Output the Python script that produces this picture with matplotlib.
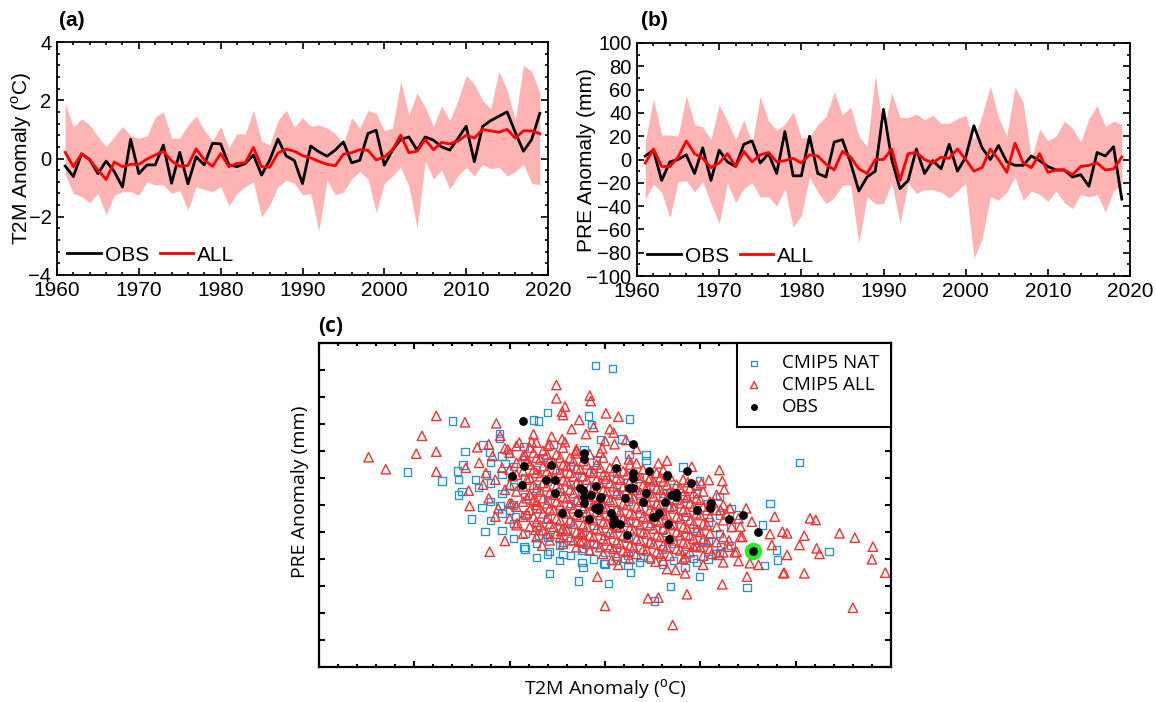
import numpy as np
import matplotlib
matplotlib.use('Agg')
import matplotlib.pyplot as plt
from matplotlib.ticker import MultipleLocator

plt.rcParams['font.family'] = ['Liberation Sans', 'DejaVu Sans']
plt.rcParams['mathtext.fontset'] = 'custom'
plt.rcParams['mathtext.rm'] = 'Liberation Sans'

years = list(range(1961, 2020))

# (a) T2M anomaly, OBS / ALL mean / ALL spread
t2m_obs = [-0.26, -0.62, 0.16, -0.04, -0.52, -0.09, -0.45, -0.98, 0.66, -0.52,
           -0.22, -0.22, 0.46, -0.85, 0.21, -0.87, 0.06, -0.22, 0.52, 0.50,
           -0.22, -0.28, -0.17, 0.12, -0.57, -0.05, 0.67, 0.09, -0.07, -0.86,
           0.43, 0.23, 0.08, 0.29, 0.57, -0.15, -0.06, 0.86, 0.97, -0.23,
           0.29, 0.65, 0.74, 0.29, 0.74, 0.63, 0.40, 0.29, 0.69, 1.11,
           -0.11, 1.10, 1.30, 1.45, 1.60, 0.90, 0.25, 0.65, 1.55]
t2m_all = [0.21, -0.28, 0.16, -0.05, -0.40, -0.72, -0.12, -0.28, -0.20, -0.20,
           -0.02, 0.12, 0.25, -0.08, -0.27, -0.24, 0.33, -0.05, -0.27, 0.17,
           -0.28, -0.17, -0.15, 0.38, -0.28, -0.30, 0.19, 0.32, 0.25, 0.10,
           0.02, -0.10, -0.20, -0.25, 0.15, 0.20, 0.30, 0.28, -0.05, 0.05,
           0.30, 0.80, 0.20, 0.25, 0.65, 0.30, 0.55, 0.50, 0.60, 0.80,
           0.70, 1.00, 0.95, 0.90, 1.00, 0.70, 0.95, 0.95, 0.85]
t2m_high = [1.90, 1.08, 1.36, 1.15, 0.75, 0.40, 0.75, 1.10, 0.78, 0.70,
            0.78, 1.42, 1.60, 0.70, 0.70, 1.15, 1.46, 0.97, 0.60, 1.09,
            0.36, 0.86, 0.83, 1.66, 0.60, 0.46, 1.30, 1.66, 1.07, 1.41,
            1.10, 1.15, 1.05, 0.85, 0.50, 1.40, 1.05, 1.65, 1.55, 0.95,
            1.05, 2.65, 1.50, 2.25, 1.75, 1.10, 1.80, 1.30, 2.00, 2.85,
            2.55, 2.00, 1.70, 3.00, 2.35, 1.30, 3.20, 3.00, 2.25]
t2m_low = [-0.55, -1.20, -1.31, -1.52, -1.20, -1.94, -1.26, -1.14, -1.14, -1.26,
           -0.80, -0.91, -0.91, -1.20, -1.09, -1.77, -0.97, -1.06, -1.14, -0.97,
           -1.63, -1.20, -0.97, -0.80, -2.00, -1.60, -0.97, -0.75, -0.85, -1.25,
           -1.20, -2.50, -0.75, -1.25, -1.15, -0.70, -0.45, -0.70, -1.85, -0.85,
           -0.60, -0.30, -0.95, -2.40, -0.10, -0.70, -0.40, -1.05, -0.60, -0.30,
           -0.60, -0.20, -0.35, -0.30, -0.60, -0.45, -0.20, -0.85, -0.90]

# (b) PRE anomaly (mm)
pre_obs = [3, 8, -18, -2, 0, 4, -12, 10, -18, 8,
           -2, -6, 13, 16, -3, 5, -12, 24, -14, -14,
           20, -12, -15, 15, 17, -3, -27, -15, -10, 43,
           0, -25, -18, 9, -12, -1, -8, 13, -10, 2,
           29, 10, 0, 12, -2, -5, -5, 3, -1, -6,
           -9, -9, -15, -13, -23, 6, 3, 11, -34]
pre_all = [-3, 9, -6, -6, 2, 16, 5, 1, -7, -3,
           5, -6, 7, -2, 4, 6, -2, -1, 1, -3,
           4, 3, -4, -9, 7, 2, -8, -12, 0, 0,
           9, -18, 5, 6, 0, -3, 2, 1, 9, 0,
           -10, -7, 9, 0, -11, 14, -3, -7, 5, -11,
           -9, -9, -13, -6, -5, -3, -9, -8, 2]
pre_low = [-34, -21, -28, -50, -19, -18, -28, -19, -38, -55,
           -20, -37, -25, -20, -32, -32, -40, -25, -58, -48,
           -15, -28, -38, -33, -22, -22, -72, -32, -38, -38,
           -20, -55, -20, -29, -26, -26, -28, -33, -27, -20,
           -85, -68, -32, -35, -28, -15, -35, -27, -30, -36,
           -27, -37, -42, -30, -32, -30, -45, -27, -22]
pre_high = [15, 52, 21, 21, 20, 55, 30, 28, 17, 47,
            33, 17, 34, 14, 54, 33, 25, 30, 41, 19,
            19, 30, 37, 58, 38, 45, 20, 11, 72, 25,
            57, 36, 36, 39, 34, 38, 31, 31, 35, 38,
            17, 38, 63, 36, 20, 62, 49, 0, 26, 16,
            20, 33, 27, 15, 35, 46, 28, 33, 30]

# (c) model members (T2M, PRE): scattered members
nat_pts = [(-1.60, 42.8), (-2.07, 12.6), (-1.71, 7.2), (-1.47, 24.6), (-1.55, 13.2),
           (-1.54, 8.2), (-1.54, -1.1), (-1.50, 0.9), (-1.36, 8.2), (-1.33, 3.5),
           (-1.28, 28.6), (-1.24, 10.8), (-1.49, 16.7), (-1.29, -8.6), (-1.40, -15.3),
           (-1.26, -22.8), (-0.10, 75.6), (0.08, 74.0), (-0.60, 47.7), (-0.75, 43.4),
           (-0.70, 42.8), (-0.17, 45.7), (-0.14, 40.8), (0.26, 44.0), (-1.11, 35.5),
           (-1.11, 32.5), (-0.85, 27.6), (-0.54, 29.0), (-0.05, 31.9), (0.18, 32.1),
           (-0.22, 25.6), (0.25, 23.0), (-1.01, 23.6), (-1.21, 24.2), (-0.65, 21.0),
           (-1.05, 17.7), (-0.09, 19.7), (0.43, 22.6), (0.43, 19.3), (0.82, 15.5),
           (0.99, 7.2), (2.04, 18.1), (1.73, -6.0), (1.65, -18.8), (1.80, -33.7),
           (1.81, -39.6), (1.67, -43.0), (0.99, -49.5), (0.69, -55.4), (0.52, -63.9),
           (1.49, -56.0), (1.21, -31.7), (1.38, -12.9), (1.16, -35.6), (1.03, -28.7),
           (0.93, -38.6), (-1.10, -7.4), (-0.85, -31.9), (-0.58, -47.5), (-0.28, -52.0),
           (-0.23, -43.9), (0.04, -53.4), (0.27, -46.9), (-0.01, -41.5), (-0.44, -36.2),
           (-0.44, -29.3), (-0.58, -34.7), (-0.58, -25.8), (-0.70, -24.8), (-0.94, -13.9),
           (-1.00, -10.0), (-0.17, -33.7), (-0.24, -32.7), (0.21, -38.6), (0.37, -38.0),
           (-0.40, -22.4), (2.35, -34.7)]

all_pts = [(-1.77, 45.8), (-1.47, 42.0), (-1.92, 34.0), (-2.48, 21.3), (-1.98, 23.4),
           (-1.77, 24.6), (-2.30, 14.2), (-1.77, 12.7), (-1.34, 27.2), (-1.43, 1.5),
           (-1.46, 15.1), (-1.42, -7.6), (-1.21, -34.7), (-0.51, 64.1), (-0.51, 56.2),
           (-0.16, 57.8), (-0.15, 54.6), (-0.42, 51.3), (-0.45, 48.3), (-0.44, 46.3),
           (0.01, 47.3), (0.14, 45.3), (-0.27, 43.4), (-0.12, 39.2), (-1.14, 41.4),
           (-0.75, 34.9), (-0.56, 33.5), (-0.77, 30.5), (-0.42, 30.2), (0.09, 35.9),
           (0.00, 31.0), (0.22, 31.5), (-0.03, 26.6), (0.33, 26.2), (-1.22, 29.0),
           (-1.05, 26.6), (-0.84, 22.6), (-0.31, 23.6), (0.33, 17.7), (0.65, 19.3),
           (0.56, 17.7), (0.91, 15.7), (1.20, 13.7), (1.23, 7.2), (1.25, 2.3),
           (1.09, 7.8), (1.01, 5.9), (0.87, 6.5), (0.61, 13.7), (0.58, 9.4),
           (0.46, 7.8), (1.78, -13.9), (1.86, -22.8), (1.91, -23.8), (1.73, -24.2),
           (1.75, -30.7), (1.91, -36.6), (2.04, -30.7), (1.87, -47.5), (1.49, -49.5),
           (1.23, -54.0), (0.86, -59.9), (0.45, -62.3), (0.56, -61.9), (0.71, -78.1),
           (1.52, -41.5), (1.61, -42.5), (1.40, -40.2), (1.38, -34.7), (1.30, -31.7),
           (1.31, -9.0), (1.54, -16.9), (1.42, -19.8), (1.13, -5.4), (1.21, -10.0),
           (1.03, -42.5), (0.84, -47.5), (0.74, -45.5), (0.53, -40.6), (1.19, -36.6),
           (0.93, -31.7), (1.42, -25.8), (-1.15, -13.9), (-1.05, -28.3), (-0.92, -17.8),
           (-0.73, -21.8), (-0.66, -31.1), (-0.46, -22.4), (-0.24, -24.4), (-0.26, -28.7),
           (-0.08, -49.5), (0.00, -66.8), (0.14, -42.5), (0.07, -39.6), (-0.72, -5.0),
           (2.81, -31.7), (2.80, -39.2), (2.94, -47.1), (2.60, -67.9), (2.62, -26.4),
           (2.46, -23.8), (2.25, -36.0), (2.22, -32.7), (2.21, -15.9), (2.15, -14.9),
           (2.09, -25.2), (2.09, -47.5), (1.88, -47.1), (0.65, -45.0),
           (-1.32, 18), (-1.28, 5), (-1.25, 12), (-1.22, -3), (-1.18, 22), (-1.15, 8),
           (-1.12, -9), (-1.08, 15), (-1.05, 2), (-1.02, 26), (-0.98, -6), (-0.97, 10),
           (1.27, -12), (1.30, -28), (1.33, -20), (1.36, -35), (1.40, -15), (1.44, -26),
           (1.48, -9), (1.24, -41), (1.12, -36), (0.84, -38),
           (-0.60, 28), (-0.45, 32), (-0.30, 26), (-0.20, 35), (-0.05, 24), (0.10, 29),
           (0.25, 20), (0.05, 38), (-0.35, 38), (-0.90, 30), (-1.10, 34)]

# dense core of the clouds, column by column: (T2M, [PRE values])
nat_core = [(-1.20, [18, 6, -5, -16]),
            (-1.08, [22, 11, 0, -12, -22]),
            (-0.96, [16, 4, -7, -18, -27]),
            (-0.84, [20, 9, -2, -13, -24, -33]),
            (-0.72, [14, 3, -9, -20, -30, -38]),
            (-0.60, [18, 7, -4, -15, -26, -36]),
            (-0.48, [12, 1, -10, -21, -31, -40]),
            (-0.36, [16, 5, -6, -17, -28, -37]),
            (-0.24, [10, -1, -12, -23, -34, -41]),
            (-0.12, [14, 3, -8, -19, -30, -39]),
            (0.00, [8, -3, -14, -25, -35, -42]),
            (0.12, [12, 1, -10, -21, -32, -40]),
            (0.24, [6, -5, -16, -27, -37, -43]),
            (0.36, [10, -1, -12, -23, -33, -41]),
            (0.48, [4, -7, -18, -29, -39]),
            (0.60, [0, -11, -22, -33, -42]),
            (0.72, [3, -8, -19, -30, -40]),
            (0.84, [-3, -14, -25, -36, -44]),
            (0.96, [0, -10, -21, -32, -41]),
            (1.08, [-6, -17, -28, -39]),
            (1.20, [-2, -13, -24, -35]),
            (1.32, [-9, -20, -31])]

all_core = [(-1.00, [24, 14, 5, -6, -15]),
            (-0.93, [28, 18, 11, 1, -8, -19]),
            (-0.86, [22, 13, 4, -5, -14, -24]),
            (-0.79, [27, 17, 9, -1, -10, -20]),
            (-0.72, [30, 21, 12, 2, -7, -17, -26]),
            (-0.65, [25, 16, 6, -3, -12, -22]),
            (-0.58, [29, 19, 10, 0, -9, -18, -28]),
            (-0.51, [23, 14, 4, -5, -15, -24]),
            (-0.44, [27, 17, 8, -2, -11, -21, -30]),
            (-0.37, [21, 12, 2, -7, -16, -26]),
            (-0.30, [25, 15, 6, -4, -13, -23, -32]),
            (-0.23, [19, 10, 0, -9, -19, -28]),
            (-0.16, [23, 13, 4, -6, -15, -25, -34]),
            (-0.09, [17, 8, -2, -11, -21, -30]),
            (-0.02, [21, 11, 2, -8, -17, -27, -36]),
            (0.05, [15, 6, -4, -13, -23, -32]),
            (0.12, [19, 9, 0, -10, -19, -29, -37]),
            (0.19, [13, 4, -6, -15, -25, -34]),
            (0.26, [17, 7, -2, -12, -21, -31, -39]),
            (0.33, [11, 2, -8, -17, -27, -36]),
            (0.40, [14, 5, -4, -14, -23, -33]),
            (0.47, [9, 0, -10, -19, -29, -38]),
            (0.54, [12, 3, -6, -16, -25, -35]),
            (0.61, [7, -2, -12, -21, -31, -40]),
            (0.68, [10, 1, -8, -18, -27, -37]),
            (0.75, [5, -4, -14, -23, -33]),
            (0.82, [8, -1, -10, -20, -29, -39]),
            (0.89, [3, -6, -16, -25, -35]),
            (0.96, [5, -3, -12, -22, -31]),
            (1.03, [1, -8, -18, -27, -37]),
            (1.10, [-5, -14, -24, -33]),
            (1.17, [-1, -10, -20, -29]),
            (1.24, [-7, -16, -26, -35]),
            # second, staggered layer in the densest part
            (-0.82, [19, 8, -3, -12]),
            (-0.75, [24, 14, 5, -4, -14]),
            (-0.68, [20, 10, 1, -9, -19]),
            (-0.61, [23, 13, 4, -6, -15, -24]),
            (-0.54, [18, 9, -1, -10, -20]),
            (-0.47, [21, 12, 3, -7, -16, -26]),
            (-0.40, [16, 7, -3, -12, -22]),
            (-0.33, [19, 10, 0, -9, -18, -28]),
            (-0.26, [14, 5, -5, -14, -24]),
            (-0.19, [17, 8, -2, -11, -20, -30]),
            (-0.12, [12, 3, -7, -16, -26]),
            (-0.05, [15, 6, -3, -13, -22, -32]),
            (0.02, [10, 1, -9, -18, -28]),
            (0.09, [13, 4, -5, -15, -24, -33]),
            (0.16, [8, -1, -11, -20, -30]),
            (0.23, [11, 2, -7, -17, -26, -35]),
            (0.30, [6, -3, -13, -22, -32]),
            (0.37, [9, 0, -9, -19, -28]),
            (0.44, [4, -5, -15, -24, -34]),
            (0.51, [7, -2, -11, -21, -30]),
            (0.58, [2, -7, -17, -26, -36]),
            (0.65, [5, -4, -13, -23, -32]),
            (0.72, [0, -9, -19, -28]),
            (0.79, [3, -6, -15, -25, -34]),
            (0.86, [-2, -11, -21, -30]),
            (0.93, [0, -8, -18, -27]),
            (1.00, [-4, -13, -23, -32]),
            (1.07, [-10, -19, -29])]

nat_t2m = [p[0] for p in nat_pts] + [x for x, ys in nat_core for _ in ys]
nat_pre = [p[1] for p in nat_pts] + [y for x, ys in nat_core for y in ys]
all_t2m = [p[0] for p in all_pts] + [x for x, ys in all_core for _ in ys]
all_pre = [p[1] for p in all_pts] + [y for x, ys in all_core for y in ys]

fig = plt.figure(figsize=(11.56, 7.02), dpi=100)
W, H = 1156.0, 702.0


def style_ts(ax):
    ax.set_xlim(1960, 2020)
    ax.xaxis.set_major_locator(MultipleLocator(10))
    ax.xaxis.set_minor_locator(MultipleLocator(2))
    ax.tick_params(which='both', direction='in', top=True, right=True, labelsize=15, width=1.2)
    ax.tick_params(axis='y', labelsize=14.5)
    ax.tick_params(which='major', length=5, pad=4)
    ax.tick_params(which='minor', length=2.5)
    for s in ax.spines.values():
        s.set_linewidth(1.3)
    ax.legend(loc='lower left', ncol=2, frameon=False, fontsize=15,
              handlelength=1.6, handletextpad=0.2, columnspacing=0.5,
              borderaxespad=0.3, borderpad=0.2)


# (a) temperature
ax1 = fig.add_axes([57 / W, 1 - 275 / H, 491 / W, 233 / H])
ax1.fill_between(years, t2m_low, t2m_high, color='#ffb4b4', lw=0)
ax1.plot(years, t2m_obs, color='k', lw=2, label='OBS')
ax1.plot(years, t2m_all, color='#ff0000', lw=2, label='ALL')
ax1.set_ylim(-4, 4)
ax1.yaxis.set_major_locator(MultipleLocator(2))
ax1.yaxis.set_minor_locator(MultipleLocator(0.4))
style_ts(ax1)
fig.text(22 / W, 1 - 158 / H, 'T2M Anomaly ($^{\\rm o}$C)', rotation=90,
         ha='center', va='center', fontsize=15)
fig.text(59 / W, 1 - 21 / H, '(a)', fontsize=15, fontweight='bold', va='center')

# (b) precipitation
ax2 = fig.add_axes([637 / W, 1 - 276 / H, 493 / W, 233 / H])
ax2.fill_between(years, pre_low, pre_high, color='#ffb4b4', lw=0)
ax2.plot(years, pre_obs, color='k', lw=2, label='OBS')
ax2.plot(years, pre_all, color='#ff0000', lw=2, label='ALL')
ax2.set_ylim(-100, 100)
ax2.yaxis.set_major_locator(MultipleLocator(20))
ax2.yaxis.set_minor_locator(MultipleLocator(10))
style_ts(ax2)
fig.text(586 / W, 1 - 160 / H, 'PRE Anomaly (mm)', rotation=90,
         ha='center', va='center', fontsize=15)
fig.text(641 / W, 1 - 21 / H, '(b)', fontsize=15, fontweight='bold', va='center')

# (c) scatter T2M vs PRE
cfont = 'Open Sans'
ax3 = fig.add_axes([319 / W, 1 - 667 / H, 572 / W, 324 / H])
ax3.scatter(nat_t2m, nat_pre, marker='s', s=28, facecolors='none',
            edgecolors='#1f93d6', linewidths=0.95, label='CMIP5 NAT')
ax3.scatter(all_t2m, all_pre, marker='^', s=45, facecolors='none',
            edgecolors='#ff3030', linewidths=1.0, label='CMIP5 ALL')
ax3.plot(t2m_obs[-1], pre_obs[-1], 'o', ms=11.5, color='#22ee22', zorder=4)
ax3.scatter(t2m_obs, pre_obs, s=28, color='k', label='OBS', zorder=5)
ax3.set_xlim(-3, 3)
ax3.set_ylim(-103, 89)
ax3.xaxis.set_major_locator(MultipleLocator(1))
ax3.xaxis.set_minor_locator(MultipleLocator(0.2))
ax3.set_yticks(np.linspace(-103, 89, 13))
ax3.set_xticklabels([])
ax3.set_yticklabels([])
ax3.tick_params(which='both', direction='in', top=True, right=True, width=1.5)
ax3.tick_params(which='major', length=4)
ax3.tick_params(which='minor', length=2.5)
for s in ax3.spines.values():
    s.set_linewidth(1.6)
leg = ax3.legend(loc='upper right', borderaxespad=0, fancybox=False, edgecolor='k',
                 framealpha=1, markerscale=0.75, handlelength=0.6, handletextpad=1.2,
                 borderpad=0.6, labelspacing=0.2, prop={'family': cfont, 'size': 13.5})
leg.get_frame().set_linewidth(1.5)
fig.text(605 / W, 1 - 690 / H, 'T2M Anomaly ($^{\\rm o}$C)', ha='center', va='center',
         fontsize=14, family=cfont)
fig.text(300 / W, 1 - 492 / H, 'PRE Anomaly (mm)', rotation=90, ha='center', va='center',
         fontsize=14, family=cfont)
fig.text(318 / W, 1 - 327 / H, '(c)', fontsize=15, fontweight='bold', va='center', family=cfont)

fig.savefig('out.png', dpi=100)
